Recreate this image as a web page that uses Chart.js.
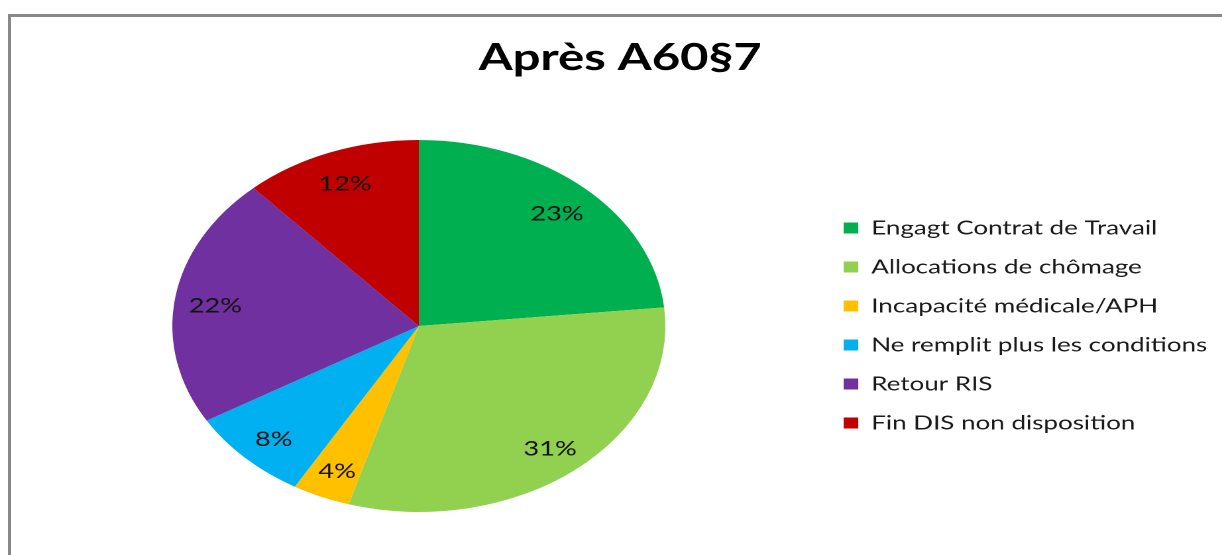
<!DOCTYPE html>
<html>
<head>
<meta charset="utf-8">
<script src="https://cdn.jsdelivr.net/npm/chart.js@4.4.1/dist/chart.umd.min.js"></script>
<style>
    body { margin: 0; background: #ffffff; overflow: hidden; }
    #frame { position: absolute; left: 8px; top: 14px; width: 1400px; height: 700px; border-left: 3px solid #888888; border-top: 3px solid #888888; }
    #wrap { position: absolute; left: 0; top: 0; width: 922px; height: 555px; transform: scaleX(1.3254); transform-origin: 0 0; }
</style>
</head>
<body>
<div id="frame"></div>
<div id="wrap"><canvas id="chartApresCanvas" width="922" height="555"></canvas></div>
<script>

var categories = [
    "Engagt Contrat de Travail",
    "Allocations de chômage",
    "Incapacité médicale/APH",
    "Ne remplit plus les conditions",
    "Retour RIS",
    "Fin DIS non disposition"
];
var values = [23.4, 31.2, 3.8, 8.1, 21.8, 11.7];     //share of each exit, in percent
var sliceColors = ["#00b050", "#92d050", "#ffc000", "#00b0f0", "#7030a0", "#c00000"];

//draws the "23%" style labels inside the slices
var pctLabels = {
    id: "pctLabels",
    afterDatasetsDraw: function(chart) {
        var ctx = chart.ctx;
        var meta = chart.getDatasetMeta(0);
        var total = values.reduce(function(a, b) { return a + b; }, 0);
        ctx.save();
        ctx.font = "20.5px Lato";
        ctx.fillStyle = "#111111";
        ctx.textAlign = "center";
        ctx.textBaseline = "middle";
        meta.data.forEach(function(arc, i) {
            var p = arc.getProps(["x", "y", "startAngle", "endAngle", "outerRadius"], true);
            var mid = (p.startAngle + p.endAngle) / 2;
            var r = p.outerRadius * 0.835;
            var txt = Math.round(values[i] / total * 100) + "%";
            ctx.fillText(txt, p.x + Math.cos(mid) * r, p.y + Math.sin(mid) * r + 3);
        });
        ctx.restore();
    }
};

var canvas = document.getElementById("chartApresCanvas");

new Chart(canvas, {
    type: "pie",
    data: {
        labels: categories,
        datasets: [{
            data: values,
            backgroundColor: sliceColors,
            borderWidth: 0
        }]
    },
    options: {
        responsive: false,
        maintainAspectRatio: false,
        animation: false,
        devicePixelRatio: 2,
        layout: { padding: { left: 14.9, right: 1.1, top: 0, bottom: 43 } },
        plugins: {
            title: {
                display: true,
                text: "Après A60§7",
                color: "#000000",
                font: { family: "Lato", size: 37, weight: "bold" },
                padding: { top: 36, bottom: 59.6 }
            },
            legend: {
                position: "right",
                //empty legend title, only used to push the items down
                title: {
                    display: true,
                    text: "",
                    font: { size: 10, lineHeight: 1 },
                    padding: { top: 129, bottom: 0 }
                },
                labels: {
                    boxWidth: 11,
                    boxHeight: 11,
                    padding: 19.4,
                    color: "#1a1a1a",
                    font: { family: "Lato", size: 19.6 }
                }
            },
            tooltip: { enabled: false }
        }
    },
    plugins: [pctLabels]
}); //end of the new Chart() object

</script>
</body>
</html>
